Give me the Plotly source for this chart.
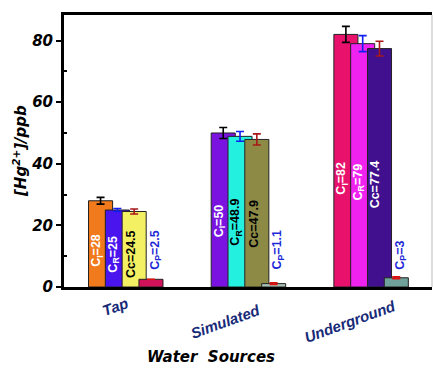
import plotly.graph_objects as go

# Hg2+ concentrations (ppb) per water source
sources = ["Tap", "Simulated", "Underground"]
c_i = [28, 50, 82]        # initial
c_r = [25, 48.9, 79]      # reference method
c_c = [24.5, 47.9, 77.4]  # proposed method
c_p = [2.5, 1.1, 3]       # after treatment
err_i = [1.1, 1.8, 2.6]
err_r = [0.5, 1.6, 2.6]
err_c = [0.8, 1.8, 2.4]
err_p = [0.0, 0.3, 0.3]
y_ticks = [0, 20, 40, 60, 80]

W = 0.196      # bar width (category units)
STEP = 0.137   # shift between overlapping bars
OFF0 = -0.30

series = [
    dict(name="CI", y=c_i, err=err_i, ecol="#000000",
         colors=["#F07A1C", "#7A12E0", "#E8126C"],
         tcol=["white", "white", "white"], sub="I"),
    dict(name="CR", y=c_r, err=err_r, ecol="#1020F0",
         colors=["#4A14EE", "#24F0E0", "#F022F0"],
         tcol=["white", "black", "white"], sub="R"),
    dict(name="Cc", y=c_c, err=err_c, ecol="#A81818",
         colors=["#F4F064", "#8C8A44", "#40108E"],
         tcol=["black", "black", "white"], sub=None),
    dict(name="CP", y=c_p, err=err_p, ecol="#E01010",
         colors=["#D0125A", "#A8C0B4", "#6FA09A"],
         tcol=None, sub="P"),
]

FONT = "Liberation Sans"
HEAVY = "DejaVu Sans"
fig = go.Figure()
annotations = []

for k, s in enumerate(series):
    off = OFF0 + k * STEP
    fig.add_trace(go.Bar(
        x=sources, y=s["y"], width=W, offset=off,
        marker=dict(color=s["colors"], line=dict(color="#222222", width=1)),
        error_y=dict(type="data", array=s["err"], color=s["ecol"],
                     thickness=1.6, width=4, visible=True),
        showlegend=False,
    ))
    for i, v in enumerate(s["y"]):
        lab = f"C<sub>{s['sub']}</sub>={v:g}" if s["sub"] else f"Cc={v:g}"
        if s["tcol"] is not None:
            annotations.append(dict(
                x=i + off + STEP / 2, y=0.43 * v, xref="x", yref="y",
                xanchor="center", yanchor="middle",
                text=f"<b>{lab}</b>", textangle=-90, showarrow=False,
                font=dict(family=FONT, size=12.5, color=s["tcol"][i]),
            ))
        else:
            annotations.append(dict(
                x=i + off + W / 2 + 0.035, y=5, xref="x", yref="y",
                xanchor="center", yanchor="bottom",
                text=f"<b>{lab}</b>", textangle=-90, showarrow=False,
                font=dict(family=FONT, size=12.5, color="#1E28D8"),
            ))

# slanted category labels
tick_shift = [(-10, -19), (-23, -34), (-21, -34)]
for i, name in enumerate(sources):
    dx, dy = tick_shift[i]
    annotations.append(dict(
        x=i, y=0, xref="x", yref="paper", xshift=dx, yshift=dy,
        xanchor="center", yanchor="middle",
        text=f"<b><i>{name}</i></b>", textangle=-20, showarrow=False,
        font=dict(family=FONT, size=15, color="#172A78"),
    ))

# axis titles
annotations.append(dict(
    x=0.4, y=0, xref="paper", yref="paper", yshift=-70,
    xanchor="center", yanchor="middle",
    text="<b><i>Water  Sources</i></b>", showarrow=False,
    font=dict(family=HEAVY, size=15, color="black"),
))
annotations.append(dict(
    x=0, y=0.5, xref="paper", yref="paper", xshift=-44,
    xanchor="center", yanchor="middle",
    text="<b><i>[Hg<sup>2+</sup>]/ppb</i></b>", textangle=-90, showarrow=False,
    font=dict(family=HEAVY, size=15, color="black"),
))

fig.update_layout(
    width=433, height=368,
    margin=dict(l=64, r=1, t=15, b=81),
    paper_bgcolor="white", plot_bgcolor="white",
    barmode="overlay",
    annotations=annotations,
    shapes=[dict(type="line", xref="paper", yref="paper", x0=1, x1=1, y0=0, y1=1,
                 line=dict(color="#BBBBBB", width=1))],
)
fig.update_xaxes(
    range=[-0.5, 2.5], showticklabels=False, ticks="",
    showline=True, linecolor="black", linewidth=3, mirror=True,
    showgrid=False, zeroline=False,
)
fig.update_yaxes(
    range=[0, 88.3], tickvals=y_ticks,
    ticktext=[f"<b><i>{t}</i></b>" for t in y_ticks],
    ticks="outside", ticklen=5, tickwidth=2, tickcolor="black",
    minor=dict(tickvals=[10, 30, 50, 70], ticks="inside", ticklen=3,
               tickwidth=2, tickcolor="black"),
    tickfont=dict(family=HEAVY, size=15, color="black"),
    showline=True, linecolor="black", linewidth=3,
    showgrid=False, zeroline=False,
)

fig.write_html("out.html")
